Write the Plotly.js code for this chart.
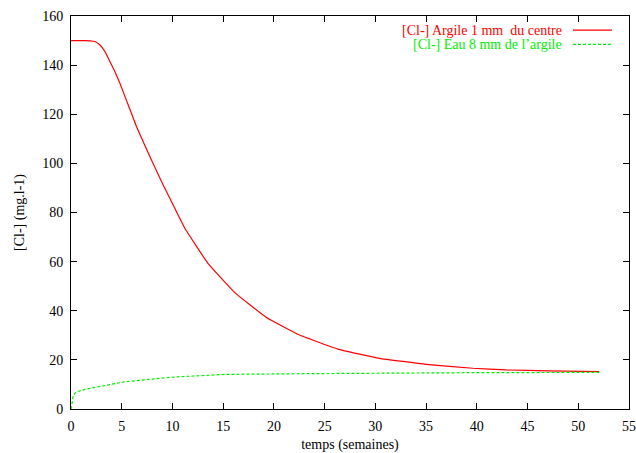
<!DOCTYPE html>
<html>
<head>
<meta charset="utf-8">
<script src="https://cdn.plot.ly/plotly-3.0.1.min.js"></script>
<style>html,body{margin:0;padding:0;background:#fff;}#chart{width:636px;height:453px;}</style>
</head>
<body>
<div id="chart"></div>
<script>
const redName = "[Cl-] Argile 1 mm  du centre";
const greenName = "[Cl-] Eau 8 mm de l\u2019argile";
const redX = [0, 0.5, 1, 1.38, 1.9, 2.36, 2.85, 3.35, 3.84, 4.33, 4.82, 5.64, 6.46, 7.78, 8.92, 9.74, 11.22, 13.5, 16.14, 19.26, 22.54, 26.3, 30.4, 35.0, 39.6, 42.9, 47, 52.07];
const redY = [150, 150, 150, 150, 149.9, 149.6, 148.2, 145.5, 141.4, 137.3, 132.6, 123.8, 114.9, 102.7, 92.6, 85.8, 73.6, 59.3, 47.4, 37.3, 30.1, 24.4, 20.6, 18.2, 16.6, 15.9, 15.5, 15.2];
const greenX = [0, 0.04, 0.13, 0.23, 0.56, 1.38, 2.69, 4.0, 5.3, 10.1, 15.3, 23.4, 30, 40, 52.07];
const greenY = [0, 1.5, 3.0, 5.7, 7.0, 8.0, 9.1, 10.2, 11.1, 13.0, 14.1, 14.4, 14.6, 14.8, 14.9];
const xTicks = [0, 5, 10, 15, 20, 25, 30, 35, 40, 45, 50, 55];
const yTicks = [0, 20, 40, 60, 80, 100, 120, 140, 160];
const xTitle = "temps (semaines)";
const yTitle = "[Cl-] (mg.l-1)";

const font = {family: "Times New Roman, Liberation Serif, DejaVu Serif, serif", size: 14, color: "#000"};

const traces = [
  {x: redX, y: redY, mode: "lines", name: redName, line: {color: "#ff0000", width: 1.2, shape: "spline", smoothing: 0.3}},
  {x: greenX, y: greenY, mode: "lines", name: greenName, line: {color: "#00ee00", width: 1.2, dash: "3px,2px"}}
];

const axisCommon = {
  showgrid: false, zeroline: false, showline: true, linecolor: "#000", linewidth: 1,
  ticks: "inside", ticklen: 6, tickcolor: "#000", tickwidth: 1, mirror: "ticks",
  tickfont: font, tickmode: "array"
};

const layout = {
  width: 636, height: 453,
  margin: {l: 71, r: 7, t: 16, b: 44},
  paper_bgcolor: "#fff", plot_bgcolor: "#fff",
  showlegend: false,
  font: font,
  xaxis: Object.assign({}, axisCommon, {range: [0, 55], tickvals: xTicks, ticktext: xTicks.map(String), ticklabelstandoff: 4,
    title: {text: xTitle, font: font, standoff: 6}}),
  yaxis: Object.assign({}, axisCommon, {range: [0, 160], tickvals: yTicks, ticktext: yTicks.map(String), ticklabelstandoff: 4,
    title: {text: yTitle, font: font, standoff: 14}}),
  annotations: [
    {xref: "paper", yref: "paper", x: 0.883, y: 0.964, xanchor: "right", yanchor: "middle", text: redName, showarrow: false, font: Object.assign({}, font, {color: "#ff0000"})},
    {xref: "paper", yref: "paper", x: 0.883, y: 0.928, xanchor: "right", yanchor: "middle", text: greenName, showarrow: false, font: Object.assign({}, font, {color: "#00ee00"})}
  ],
  shapes: [
    {type: "line", xref: "paper", yref: "paper", x0: 0.8996, x1: 0.9695, y0: 0.964, y1: 0.964, line: {color: "#ff0000", width: 1.2}},
    {type: "line", xref: "paper", yref: "paper", x0: 0.8996, x1: 0.9695, y0: 0.928, y1: 0.928, line: {color: "#00ee00", width: 1.2, dash: "3px,2px"}}
  ]
};

Plotly.newPlot("chart", traces, layout, {displayModeBar: false, staticPlot: true});
</script>
</body>
</html>
